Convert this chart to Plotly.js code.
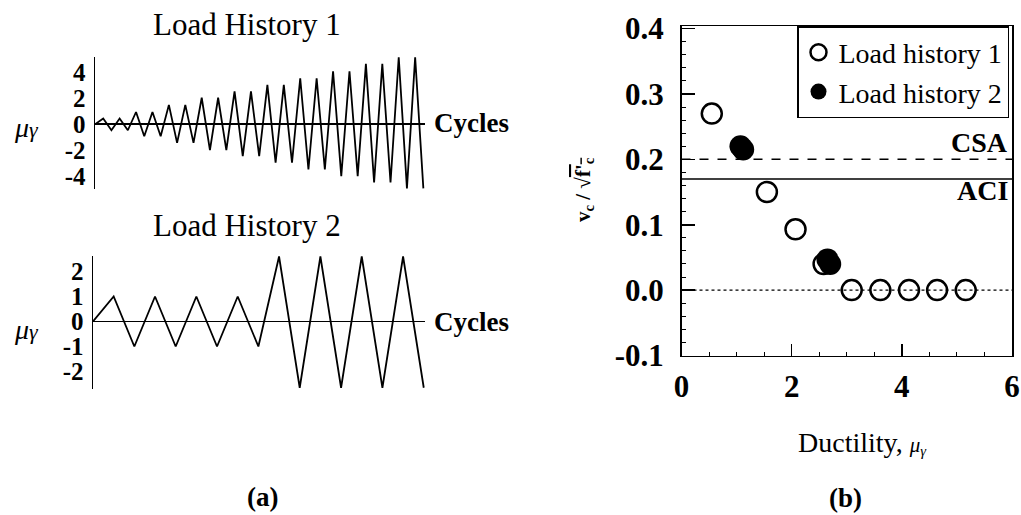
<!DOCTYPE html>
<html>
<head>
<meta charset="utf-8">
<script src="https://cdn.plot.ly/plotly-3.0.1.min.js"></script>
<style>html,body{margin:0;padding:0;background:#fff;}#chart{width:1021px;height:515px;}</style>
</head>
<body>
<div id="chart"></div>
<script>
// ---- Data ----
// Load history 1: peak / trough ductility of each cycle
const lh1Peaks   = [0.44,0.44,0.95,0.95,1.5,1.5,2.05,2.05,2.54,2.54,3.05,3.05,3.56,3.56,4.1,4.1,4.67,4.67,5.18,5.18];
const lh1Troughs = [-0.46,-0.46,-0.92,-0.92,-1.44,-1.44,-2,-2,-2.46,-2.46,-2.97,-2.97,-3.49,-3.49,-4,-4,-4.5,-4.5,-4.95,-4.95];
const lh1Ticks   = [-4,-2,0,2,4];
// Load history 2
const lh2Peaks   = [1,1,1,1,2.6,2.6,2.6,2.6];
const lh2Troughs = [-1,-1,-1,-1,-2.65,-2.65,-2.65,-2.65];
const lh2Ticks   = [-2,-1,0,1,2];
// Panel (b): shear strength ratio vs ductility
const hist1Ductility = [0.55,1.55,2.07,2.58,3.09,3.61,4.13,4.64,5.16];
const hist1Ratio     = [0.27,0.15,0.093,0.04,0,0,0,0,0];
const hist2Ductility = [1.07,1.12,2.65,2.7];
const hist2Ratio     = [0.22,0.215,0.047,0.04];
const csaLevel = 0.2;
const aciLevel = 0.17;
const zeroLevel = 0;
const bXTicks = [0,2,4,6];
const bYTicks = [-0.1,0,0.1,0.2,0.3,0.4];
const bYTickText = ['-0.1','0.0','0.1','0.2','0.3','0.4'];

// build zig-zag histories: start at 0, peak at k-0.5, trough at k
function history(peaks, troughs){
  const x=[0], y=[0];
  for(let k=1;k<=peaks.length;k++){
    x.push(k-0.5); y.push(peaks[k-1]);
    x.push(k);     y.push(troughs[k-1]);
  }
  return {x,y};
}
const h1 = history(lh1Peaks, lh1Troughs);
const h2 = history(lh2Peaks, lh2Troughs);

const W=1021, H=515;
const px = v => v/W;
const py = v => 1 - v/H;
const serif = 'Liberation Serif, Times New Roman, serif';

const traces = [
  {x:h1.x, y:h1.y, xaxis:'x', yaxis:'y', mode:'lines', line:{color:'#000', width:1.8}, showlegend:false, hoverinfo:'skip'},
  {x:h2.x, y:h2.y, xaxis:'x2', yaxis:'y2', mode:'lines', line:{color:'#000', width:1.8}, showlegend:false, hoverinfo:'skip'},
  {x:[0,6], y:[zeroLevel,zeroLevel], xaxis:'x3', yaxis:'y3', mode:'lines', line:{color:'#000', width:1.3, dash:'dot'}, showlegend:false},
  {x:[0,6], y:[csaLevel,csaLevel], xaxis:'x3', yaxis:'y3', mode:'lines', line:{color:'#000', width:1.5, dash:'dash'}, showlegend:false},
  {x:[0,6], y:[aciLevel,aciLevel], xaxis:'x3', yaxis:'y3', mode:'lines', line:{color:'#000', width:1.5}, showlegend:false},
  {x:hist1Ductility, y:hist1Ratio, xaxis:'x3', yaxis:'y3', mode:'markers', name:'Load history 1',
   marker:{symbol:'circle-open', size:20, color:'#000', line:{width:2.5, color:'#000'}}},
  {x:hist2Ductility, y:hist2Ratio, xaxis:'x3', yaxis:'y3', mode:'markers', name:'Load history 2',
   marker:{symbol:'circle', size:22, color:'#000'}}
];

const leftY = (dom, range, ticks) => ({
  domain:dom, range:range, showgrid:false,
  showline:true, linecolor:'#000', linewidth:1.5,
  zeroline:true, zerolinecolor:'#000', zerolinewidth:1.8,
  tickvals:ticks, ticktext:ticks.map(String), ticks:'',
  tickfont:{family:serif, size:25, color:'#000', weight:'bold'}, ticklabelstandoff:3
});

const layout = {
  width:W, height:H,
  margin:{l:0,r:0,t:0,b:0},
  paper_bgcolor:'#fff', plot_bgcolor:'rgba(0,0,0,0)',
  font:{family:serif, color:'#000'},
  showlegend:true,
  legend:{x:px(1009), xanchor:'right', y:py(26), yanchor:'top',
          bgcolor:'#fff', bordercolor:'#000', borderwidth:1.5,
          font:{family:serif, size:28, color:'#000'}, tracegroupgap:0, itemwidth:30},
  xaxis:{domain:[px(95),px(425)], range:[0,20.1], anchor:'y', showgrid:false, zeroline:false, showline:false, showticklabels:false, ticks:''},
  yaxis:Object.assign(leftY([py(189),py(57)], [-5.0,5.2], lh1Ticks), {anchor:'x'}),
  xaxis2:{domain:[px(93),px(425)], range:[0,8.03], anchor:'y2', showgrid:false, zeroline:false, showline:false, showticklabels:false, ticks:''},
  yaxis2:Object.assign(leftY([py(389),py(256)], [-2.7,2.62], lh2Ticks), {anchor:'x2'}),
  xaxis3:{domain:[px(681.5),px(1012)], range:[0,6], anchor:'y3', showgrid:false, zeroline:false,
          showline:true, mirror:true, linecolor:'#000', linewidth:1.5,
          tickvals:bXTicks, ticktext:bXTicks.map(String), ticks:'inside', ticklen:12, tickwidth:1.5, tickcolor:'#000',
          minor:{tickmode:'linear', tick0:0, dtick:0.5, ticks:'inside', ticklen:4, tickwidth:1, tickcolor:'#000'},
          tickfont:{family:serif, size:31, color:'#000', weight:'bold'}, ticklabelstandoff:3},
  yaxis3:{domain:[py(355.5),py(26)], range:[-0.1,0.404], anchor:'x3', showgrid:false, zeroline:false,
          showline:true, mirror:true, linecolor:'#000', linewidth:1.5,
          tickvals:bYTicks, ticktext:bYTickText, ticks:'inside', ticklen:13, tickwidth:1.5, tickcolor:'#000',
          minor:{tickmode:'linear', tick0:0, dtick:0.02, ticks:'inside', ticklen:4, tickwidth:1, tickcolor:'#000'},
          tickfont:{family:serif, size:31, color:'#000', weight:'bold'}, ticklabelstandoff:10},
  annotations:[
    {text:'Load History 1', x:px(247), y:py(25), xref:'paper', yref:'paper', showarrow:false, xanchor:'center', yanchor:'middle', font:{size:31}},
    {text:'Load History 2', x:px(247), y:py(225), xref:'paper', yref:'paper', showarrow:false, xanchor:'center', yanchor:'middle', font:{size:31}},
    {text:'Cycles', x:px(432), y:py(123), xref:'paper', yref:'paper', showarrow:false, xanchor:'left', yanchor:'middle', font:{size:27, weight:'bold'}},
    {text:'Cycles', x:px(432), y:py(322), xref:'paper', yref:'paper', showarrow:false, xanchor:'left', yanchor:'middle', font:{size:27, weight:'bold'}},
    {text:'<i>μ<span style="font-size:22px">γ</span></i>', x:px(26), y:py(128), xref:'paper', yref:'paper', showarrow:false, xanchor:'center', yanchor:'middle', font:{size:28}},
    {text:'<i>μ<span style="font-size:22px">γ</span></i>', x:px(26), y:py(329), xref:'paper', yref:'paper', showarrow:false, xanchor:'center', yanchor:'middle', font:{size:28}},
    {text:'CSA', x:px(1010), y:py(143), xref:'paper', yref:'paper', showarrow:false, xanchor:'right', yanchor:'middle', font:{size:28, weight:'bold'}},
    {text:'ACI', x:px(1010), y:py(190), xref:'paper', yref:'paper', showarrow:false, xanchor:'right', yanchor:'middle', font:{size:28, weight:'bold'}},
    {text:'v<sub>c</sub> / √<span style="text-decoration:overline">f\'<sub>c</sub></span>', x:px(584), y:py(190), xref:'paper', yref:'paper', showarrow:false, textangle:-90, xanchor:'center', yanchor:'middle', font:{size:21, weight:'bold'}},
    {text:'Ductility, <i><span style="font-size:21px">μ<sub>γ</sub></span></i>', x:px(862), y:py(443), xref:'paper', yref:'paper', showarrow:false, xanchor:'center', yanchor:'middle', font:{size:28}},
    {text:'(a)', x:px(262), y:py(497), xref:'paper', yref:'paper', showarrow:false, xanchor:'center', yanchor:'middle', font:{size:27, weight:'bold'}},
    {text:'(b)', x:px(845), y:py(498), xref:'paper', yref:'paper', showarrow:false, xanchor:'center', yanchor:'middle', font:{size:27, weight:'bold'}}
  ]
};

Plotly.newPlot('chart', traces, layout, {staticPlot:true, displayModeBar:false});
</script>
</body>
</html>
